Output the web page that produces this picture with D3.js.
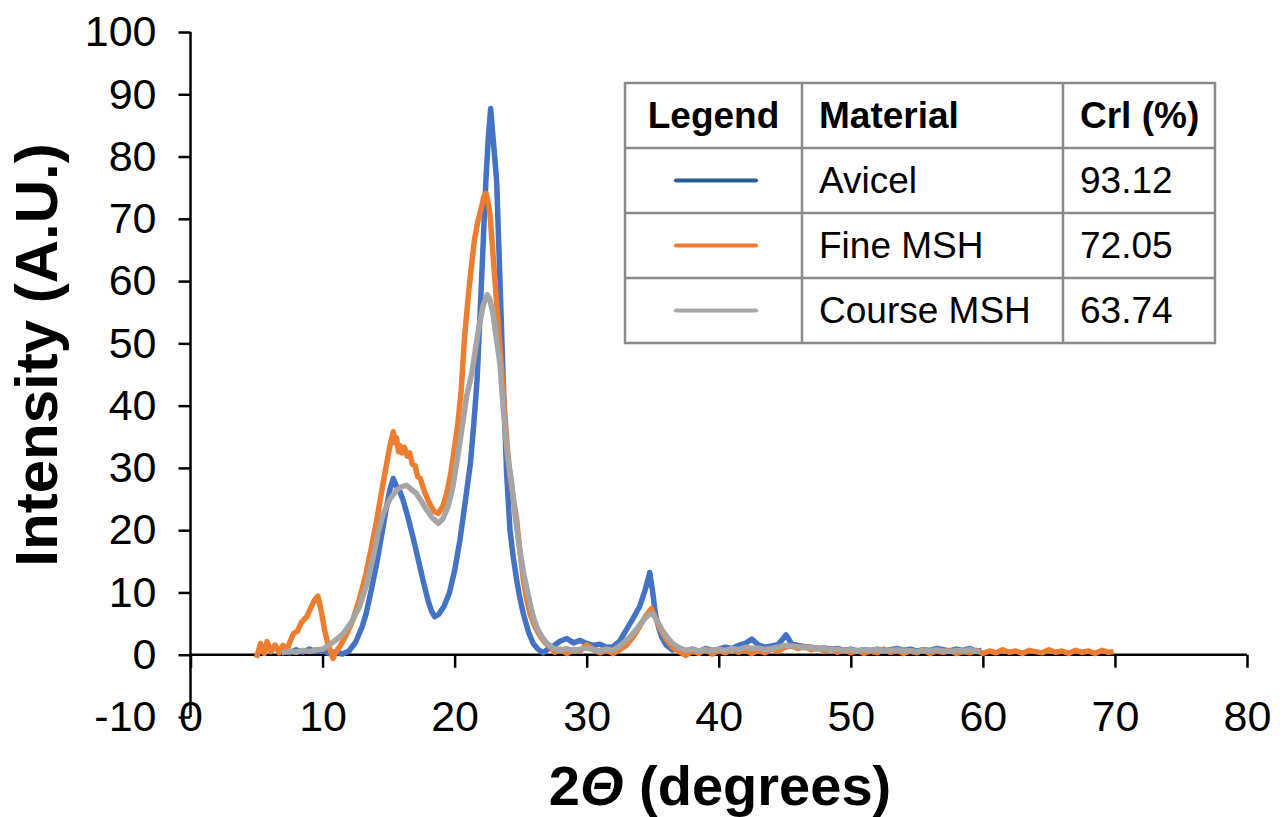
<!DOCTYPE html>
<html>
<head>
<meta charset="utf-8">
<script src="https://cdn.jsdelivr.net/npm/d3@7"></script>
<style>
  body { margin: 0; background: #fff; }
  svg { display: block; font-family: "Liberation Sans", Arial, sans-serif; }
</style>
</head>
<body>
<div id="chart"></div>
<script>
// series, [2theta, intensity]
var avicel = [[7.0,0.6],[7.5,0.3],[8.0,0.8],[8.5,0.4],[9.0,0.9],[9.5,0.5],[10.0,0.7],[10.5,0.2],[11.0,0.5],[11.5,0.1],[12.0,0.6],[12.5,2.0],[13.0,4.5],[13.3,6.6],[13.7,10.5],[14.1,14.7],[14.5,19.5],[14.85,23.8],[15.1,26.5],[15.35,28.3],[15.6,27.0],[15.85,26.2],[16.1,24.8],[16.5,21.8],[16.9,18.4],[17.3,14.8],[17.6,12.0],[18.0,8.6],[18.25,7.0],[18.5,6.1],[18.8,6.5],[19.2,7.8],[19.6,9.9],[20.0,13.5],[20.4,18.4],[20.8,24.5],[21.2,30.8],[21.45,37.0],[21.7,44.1],[22.04,60.2],[22.37,76.2],[22.55,83.0],[22.73,87.7],[22.95,82.0],[23.18,76.2],[23.43,60.2],[23.68,44.0],[23.94,29.0],[24.19,20.0],[24.45,15.5],[24.7,12.0],[24.95,9.0],[25.2,6.6],[25.6,3.6],[25.95,1.8],[26.3,0.9],[26.7,0.3],[27.0,0.8],[27.5,1.4],[28.0,2.2],[28.5,2.6],[29.0,1.9],[29.5,2.3],[30.0,1.8],[30.5,1.5],[31.0,1.7],[31.5,1.2],[32.0,1.3],[32.5,2.2],[33.0,4.0],[33.5,5.8],[34.0,7.7],[34.4,10.2],[34.78,13.2],[35.0,10.0],[35.2,6.6],[35.45,4.4],[35.67,2.9],[36.0,1.6],[36.5,0.75],[37.0,1.1],[37.5,0.6],[38.0,0.9],[38.5,0.5],[39.0,1.0],[39.5,0.7],[40.0,0.9],[40.5,1.2],[41.0,1.0],[41.5,1.5],[42.0,1.8],[42.5,2.5],[43.0,1.6],[43.5,1.2],[44.0,1.4],[44.5,1.6],[45.1,3.2],[45.5,1.8],[46.0,1.5],[46.5,1.3],[47.0,1.2],[47.5,1.0],[48.0,1.1],[48.5,0.9],[49.0,1.0],[49.5,0.7],[50.0,0.9],[50.5,0.6],[51.0,0.8],[51.5,0.7],[52.0,0.9],[52.5,0.6],[53.0,0.8],[53.5,1.0],[54.0,0.7],[54.5,0.9],[55.0,0.6],[55.5,0.8],[56.0,0.7],[56.5,1.0],[57.0,0.8],[57.5,0.6],[58.0,0.9],[58.5,0.7],[59.0,1.0],[59.5,0.6],[59.9,0.7]];

var fineMSH = [[5.0,-0.5],[5.3,1.8],[5.6,0.2],[5.8,2.1],[6.1,0.5],[6.4,1.6],[6.7,0.3],[7.0,1.5],[7.3,0.8],[7.6,2.4],[7.8,3.4],[8.1,3.8],[8.4,5.2],[8.8,6.1],[9.1,7.5],[9.4,8.8],[9.65,9.4],[9.9,7.0],[10.15,4.0],[10.4,1.8],[10.8,-0.6],[11.0,0.4],[11.3,1.3],[11.8,3.2],[12.3,5.6],[12.8,9.0],[13.3,13.1],[13.7,17.2],[14.1,21.6],[14.5,26.5],[14.85,30.7],[15.1,33.5],[15.35,35.8],[15.5,34.0],[15.6,34.8],[15.75,32.6],[15.86,33.6],[16.0,32.4],[16.2,33.3],[16.4,31.9],[16.6,32.4],[16.8,30.6],[17.0,30.4],[17.2,28.6],[17.4,28.3],[17.75,26.0],[18.1,24.3],[18.45,23.0],[18.76,22.7],[19.1,23.8],[19.4,25.9],[19.7,29.0],[20.0,33.4],[20.25,37.2],[20.5,42.5],[20.75,51.0],[21.03,57.5],[21.25,62.0],[21.5,66.6],[21.75,69.5],[22.04,71.9],[22.2,73.5],[22.37,74.1],[22.5,73.0],[22.67,70.9],[22.85,66.0],[23.05,60.2],[23.25,54.5],[23.43,49.5],[23.6,44.5],[23.8,38.8],[24.0,33.0],[24.2,28.6],[24.45,25.0],[24.7,21.6],[24.95,16.5],[25.2,12.0],[25.45,9.0],[25.7,6.6],[26.1,4.4],[26.5,2.9],[26.85,1.9],[27.2,1.3],[27.6,0.4],[28.0,0.9],[28.5,0.2],[29.0,0.8],[29.5,0.6],[30.0,1.6],[30.5,0.9],[31.0,0.3],[31.5,0.7],[32.0,0.2],[32.5,0.8],[33.0,1.5],[33.5,2.8],[34.0,4.5],[34.5,6.3],[34.9,7.4],[35.2,6.0],[35.5,4.4],[35.8,3.2],[36.05,2.4],[36.5,1.2],[37.0,0.5],[37.5,-0.1],[38.0,0.6],[38.5,0.2],[39.0,0.9],[39.5,0.1],[40.0,0.7],[40.5,0.3],[41.0,0.9],[41.5,0.4],[42.0,0.8],[42.5,0.2],[43.0,0.7],[43.5,0.3],[44.0,0.9],[44.5,0.6],[45.0,1.2],[45.5,1.4],[46.0,1.0],[46.5,1.3],[47.0,0.8],[47.5,1.1],[48.0,0.6],[48.5,0.9],[49.0,0.4],[49.5,0.8],[50.0,0.3],[50.5,0.7],[51.0,0.2],[51.5,0.6],[52.0,0.3],[52.5,0.9],[53.0,0.4],[53.5,0.7],[54.0,0.2],[54.5,0.6],[55.0,0.3],[55.5,0.8],[56.0,0.2],[56.5,0.6],[57.0,0.4],[57.5,0.7],[58.0,0.2],[58.5,0.5],[59.0,0.3],[59.5,0.7],[60.0,0.2],[60.5,0.6],[61.0,0.3],[61.5,0.8],[62.0,0.4],[62.5,0.6],[63.0,0.2],[63.5,0.7],[64.0,0.5],[64.5,0.3],[65.0,0.8],[65.5,0.4],[66.0,0.6],[66.5,0.2],[67.0,0.7],[67.5,0.4],[68.0,0.6],[68.5,0.2],[69.0,0.7],[69.5,0.4],[69.9,0.5]];

var courseMSH = [[6.9,0.3],[7.5,0.6],[8.0,0.4],[8.5,0.7],[9.0,0.5],[9.5,0.8],[10.0,0.9],[10.3,1.3],[10.9,2.2],[11.57,3.4],[12.2,5.3],[12.8,7.7],[13.3,11.0],[13.84,15.7],[14.2,19.5],[14.6,22.7],[15.1,25.0],[15.6,26.4],[16.0,27.0],[16.36,27.2],[16.7,26.6],[17.1,25.9],[17.5,24.6],[17.9,23.2],[18.3,22.0],[18.76,21.1],[19.1,21.8],[19.5,23.8],[19.85,26.8],[20.15,30.7],[20.5,35.5],[20.9,41.4],[21.3,45.2],[21.8,52.1],[22.15,56.0],[22.47,57.8],[22.7,56.8],[22.9,54.8],[23.15,51.0],[23.43,46.8],[23.7,39.0],[24.0,32.0],[24.3,28.0],[24.6,22.0],[24.9,17.3],[25.25,12.8],[25.6,9.3],[25.9,6.5],[26.2,4.5],[26.6,2.9],[27.0,1.8],[27.5,1.0],[28.0,0.7],[28.5,1.0],[29.0,0.6],[29.5,0.9],[30.0,1.1],[30.5,0.8],[31.0,0.6],[31.5,0.9],[32.0,0.7],[32.5,1.4],[33.3,2.9],[33.8,4.2],[34.3,5.6],[34.7,6.4],[35.0,6.6],[35.35,5.4],[35.7,4.0],[36.1,2.8],[36.5,1.8],[37.0,1.1],[37.5,0.7],[38.0,0.9],[38.5,0.6],[39.0,0.8],[39.5,0.6],[40.0,0.9],[40.5,0.7],[41.0,1.0],[41.5,0.8],[42.0,1.2],[42.5,1.0],[43.0,1.1],[43.5,0.8],[44.0,1.0],[44.5,1.2],[45.0,1.5],[45.5,1.4],[46.0,1.3],[46.5,1.1],[47.0,1.2],[47.5,0.9],[48.0,1.0],[48.5,0.8],[49.0,0.9],[49.5,0.7],[50.0,0.8],[50.5,0.6],[51.0,0.8],[51.5,0.7],[52.0,0.8],[52.5,0.6],[53.0,0.7],[53.5,0.8],[54.0,0.6],[54.5,0.7],[55.0,0.5],[55.5,0.7],[56.0,0.6],[56.5,0.8],[57.0,0.6],[57.5,0.5],[58.0,0.7],[58.5,0.6],[59.0,0.8],[59.5,0.5],[59.8,0.6]];

var materials = ["Avicel", "Fine MSH", "Course MSH"];
var crystallinity = ["93.12", "72.05", "63.74"];
var tableHeaders = ["Legend", "Material", "Crl (%)"];
var xTicks = [0, 10, 20, 30, 40, 50, 60, 70, 80];
var yTicks = [-10, 0, 10, 20, 30, 40, 50, 60, 70, 80, 90, 100];

var lineColors = ["#4472C4", "#ED7D31", "#A5A5A5"];
var legendColors = ["#255E91", "#ED7D31", "#A5A5A5"];
var seriesList = [avicel, fineMSH, courseMSH];

var W = 1282, H = 817;

var x = d3.scaleLinear().domain([0, 80]).range([190.5, 1247]);
var y = d3.scaleLinear().domain([-10, 100]).range([717, 32]);

var svg = d3.select("#chart")
	.append("svg")
	.attr("width", W)
	.attr("height", H);

// y axis sits at x = 0, plain hyphen for the minus like the original
var yAxis = svg.append("g")
	.attr("transform", "translate(" + x(0) + ",0)")
	.call(d3.axisLeft(y).tickValues(yTicks).tickSize(12).tickPadding(22).tickFormat(function(d) { return String(d); }));

// x axis crosses at y = 0
var xAxis = svg.append("g")
	.attr("transform", "translate(0," + y(0) + ")")
	.call(d3.axisBottom(x).tickValues(xTicks).tickSize(13).tickPadding(33).tickFormat(function(d) { return String(d); }));

[yAxis, xAxis].forEach(function(g) {
	g.select(".domain").attr("stroke", "#000").attr("stroke-width", 2.5);
	g.selectAll(".tick line").attr("stroke", "#000").attr("stroke-width", 2.5);
	g.selectAll(".tick text")
		.attr("fill", "#000")
		.style("font-size", "43px")
		.style("font-family", "'Liberation Sans', Arial, sans-serif");
});
// strip the outer end caps d3 draws on the domain
yAxis.select(".domain").attr("d", "M0," + y(100) + "V" + y(-10));
xAxis.select(".domain").attr("d", "M" + x(0) + ",0H" + x(80));

var line = d3.line()
	.x(function(d) { return x(d[0]); })
	.y(function(d) { return y(d[1]); });

svg.append("g").selectAll("path")
	.data(seriesList)
	.enter().append("path")
	.attr("d", line)
	.attr("fill", "none")
	.attr("stroke", function(d, i) { return lineColors[i]; })
	.attr("stroke-width", 5.5)
	.attr("stroke-linejoin", "round");

// axis titles
svg.append("text")
	.attr("transform", "translate(57," + 355 + ") rotate(-90)")
	.attr("text-anchor", "middle")
	.style("font-size", "60px")
	.style("font-weight", "bold")
	.text("Intensity (A.U.)");

var xTitle = svg.append("text")
	.attr("x", 720)
	.attr("y", 805)
	.attr("text-anchor", "middle")
	.style("font-size", "56px")
	.style("font-weight", "bold");
xTitle.append("tspan").text("2");
xTitle.append("tspan").style("font-style", "italic").text("\u0398");
xTitle.append("tspan").text(" (degrees)");

// legend table
var tLeft = 625, tRight = 1215, tTop = 83, rowH = 65;
var colX = [tLeft, 802, 1063, tRight];
var table = svg.append("g");

table.append("rect")
	.attr("x", tLeft).attr("y", tTop)
	.attr("width", tRight - tLeft).attr("height", rowH * 4)
	.attr("fill", "#fff")
	.attr("stroke", "#8a8a8a").attr("stroke-width", 2.5);

table.selectAll(".hline")
	.data([1, 2, 3])
	.enter().append("line")
	.attr("x1", tLeft).attr("x2", tRight)
	.attr("y1", function(d) { return tTop + d * rowH; })
	.attr("y2", function(d) { return tTop + d * rowH; })
	.attr("stroke", "#8a8a8a").attr("stroke-width", 2.5);

table.selectAll(".vline")
	.data([colX[1], colX[2]])
	.enter().append("line")
	.attr("x1", function(d) { return d; }).attr("x2", function(d) { return d; })
	.attr("y1", tTop).attr("y2", tTop + rowH * 4)
	.attr("stroke", "#8a8a8a").attr("stroke-width", 2.5);

table.selectAll(".head")
	.data(tableHeaders)
	.enter().append("text")
	.attr("x", function(d, i) { return i == 0 ? (colX[0] + colX[1]) / 2 : colX[i] + 17; })
	.attr("y", tTop + rowH / 2)
	.attr("dy", "0.35em")
	.attr("text-anchor", function(d, i) { return i == 0 ? "middle" : "start"; })
	.style("font-size", "37px")
	.style("font-weight", "bold")
	.text(function(d) { return d; });

materials.forEach(function(m, i) {
	var cy = tTop + rowH * (i + 1) + rowH / 2;
	table.append("line")
		.attr("x1", 676).attr("x2", 756)
		.attr("y1", cy).attr("y2", cy)
		.attr("stroke", legendColors[i])
		.attr("stroke-width", 4)
		.attr("stroke-linecap", "round");
	table.append("text")
		.attr("x", colX[1] + 17).attr("y", cy).attr("dy", "0.35em")
		.style("font-size", "37px")
		.text(m);
	table.append("text")
		.attr("x", colX[2] + 17).attr("y", cy).attr("dy", "0.35em")
		.style("font-size", "37px")
		.text(crystallinity[i]);
});
</script>
</body>
</html>
